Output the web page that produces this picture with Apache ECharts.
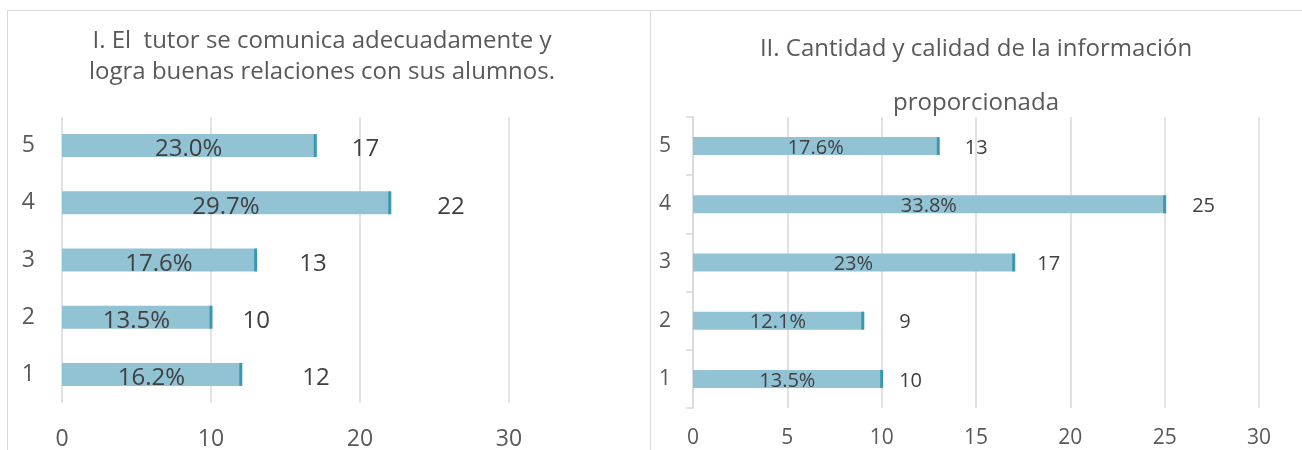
<!DOCTYPE html>
<html>
<head>
<meta charset="utf-8">
<script src="https://cdn.jsdelivr.net/npm/echarts@6/dist/echarts.min.js"></script>
<style>
  html, body { margin: 0; padding: 0; background: #fff; overflow: hidden; }
  #wrap { position: relative; width: 1302px; height: 450px; }
  .panel { position: absolute; top: 10px; height: 440px; box-sizing: border-box;
           border-top: 1px solid #d9d9d9; border-left: 1px solid #d9d9d9; }
  #left { left: 7px; width: 643px; }
  #right { left: 650px; width: 652px; }
</style>
</head>
<body>
<div id="wrap">
  <div id="left" class="panel"></div>
  <div id="right" class="panel"></div>
</div>
<script>
const categories = ['1', '2', '3', '4', '5'];

const leftTitle = 'I. El  tutor se comunica adecuadamente y\nlogra buenas relaciones con sus alumnos.';
const leftCounts = [12, 10, 13, 22, 17];
const leftPct = ['16.2%', '13.5%', '17.6%', '29.7%', '23.0%'];
const leftTicks = [0, 10, 20, 30];

const rightTitle = 'II. Cantidad y calidad de la información\nproporcionada';
const rightCounts = [10, 9, 17, 25, 13];
const rightPct = ['13.5%', '12.1%', '23%', '33.8%', '17.6%'];
const rightTicks = [0, 5, 10, 15, 20, 25, 30];

// label gaps as drawn in the original (layout only)
const leftGaps = [60, 30, 42, 46, 35];
const rightGaps = [16, 35, 22, 26, 25];

const FONT = '"Open Sans", "Noto Sans", sans-serif';
const BAR = '#92c3d4';
const BAR_END = '#3a98b0';
const GRID = '#d9d9d9';
const TXT = '#595959';

function build(cfg) {
  return {
    animation: false,
    textStyle: { fontFamily: FONT },
    graphic: [{
      type: 'text',
      x: cfg.titleX,
      y: cfg.titleY,
      style: {
        text: cfg.title,
        font: cfg.titleSize + 'px ' + FONT,
        fill: TXT,
        textAlign: 'center',
        textVerticalAlign: 'top',
        lineHeight: cfg.titleLine
      }
    }],
    grid: Object.assign({ containLabel: false, outerBoundsMode: 'none' }, cfg.grid),
    xAxis: {
      type: 'value',
      min: cfg.ticks[0],
      max: cfg.ticks[cfg.ticks.length - 1],
      interval: cfg.ticks[1] - cfg.ticks[0],
      axisLine: { show: false },
      axisTick: { show: false },
      splitLine: { lineStyle: { color: GRID, width: 1.5 } },
      axisLabel: { color: TXT, fontSize: cfg.axisSize, fontFamily: FONT, margin: cfg.xMargin }
    },
    yAxis: {
      type: 'category',
      data: categories,
      axisLine: { show: cfg.yLine, lineStyle: { color: GRID, width: 1.5 } },
      axisTick: { show: cfg.yLine, length: 7, lineStyle: { color: GRID, width: 1.5 } },
      axisLabel: { color: TXT, fontSize: cfg.axisSize, fontFamily: FONT, margin: cfg.yMargin }
    },
    series: [{
      type: 'bar',
      data: cfg.counts,
      barWidth: cfg.barWidth,
      barGap: '-100%',
      itemStyle: { color: BAR },
      label: {
        show: true,
        position: 'inside',
        offset: [0, cfg.labelDy],
        color: '#404040',
        fontSize: cfg.labelSize,
        fontFamily: FONT,
        formatter: p => cfg.pct[p.dataIndex]
      },
      z: 2
    }, {
      type: 'pictorialBar',
      data: cfg.counts.map((v, i) => ({
        value: v,
        label: { distance: cfg.gaps[i] }
      })),
      symbol: 'rect',
      symbolSize: [3, cfg.barWidth],
      symbolPosition: 'end',
      symbolOffset: ['50%', 0],
      barWidth: cfg.barWidth,
      barGap: '-100%',
      itemStyle: { color: BAR_END },
      label: {
        show: true,
        position: 'right',
        offset: [0, cfg.labelDy],
        color: '#404040',
        fontSize: cfg.labelSize,
        fontFamily: FONT,
        formatter: p => String(p.value)
      },
      z: 3
    }]
  };
}

const leftChart = echarts.init(document.getElementById('left'));
leftChart.setOption(build({
  title: leftTitle, titleX: 314, titleY: 15, titleSize: 24, titleLine: 31,
  grid: { left: 54, right: 141, top: 106, bottom: 47 },
  ticks: leftTicks, counts: leftCounts, pct: leftPct, gaps: leftGaps,
  axisSize: 23, labelSize: 24, labelDy: 4, barWidth: 23,
  xMargin: 25, yMargin: 27, yLine: false
}));

const rightChart = echarts.init(document.getElementById('right'));
rightChart.setOption(build({
  title: rightTitle, titleX: 325, titleY: 11, titleSize: 24, titleLine: 54,
  grid: { left: 42, right: 43, top: 106, bottom: 42 },
  ticks: rightTicks, counts: rightCounts, pct: rightPct, gaps: rightGaps,
  axisSize: 21, labelSize: 20, labelDy: 2, barWidth: 18,
  xMargin: 20, yMargin: 22, yLine: true
}));
</script>
</body>
</html>
